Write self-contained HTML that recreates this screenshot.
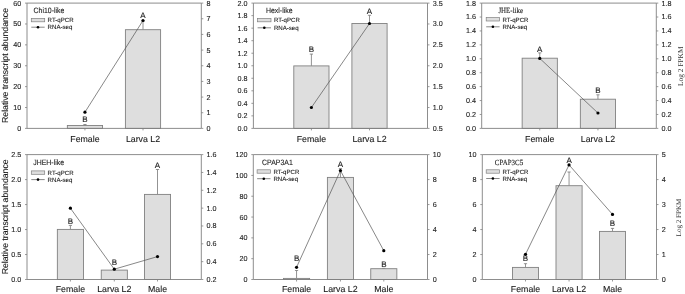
<!DOCTYPE html>
<html><head><meta charset="utf-8"><title>RT-qPCR vs RNA-seq</title><style>
html,body{margin:0;padding:0;background:#fff;}
body{width:685px;height:294px;overflow:hidden;font-family:"Liberation Sans", sans-serif;}
svg{display:block;filter:grayscale(1);text-rendering:geometricPrecision;}
text{stroke:#1a1a1a;stroke-width:0.1px;}
</style></head><body>
<svg width="685" height="294" viewBox="0 0 685 294">
<rect width="685" height="294" fill="#fff"/>
<line x1="84.95" y1="125.5" x2="84.95" y2="124.5" stroke="#777" stroke-width="0.8"/>
<line x1="83.35" y1="124.5" x2="86.55" y2="124.5" stroke="#777" stroke-width="0.8"/>
<rect x="67.35" y="125.5" width="35.2" height="2.9" fill="#dedede" stroke="#808080" stroke-width="0.9"/>
<text x="84.95" y="122.4" font-size="8" text-anchor="middle" font-family='"Liberation Sans", sans-serif' fill="#1a1a1a">B</text>
<text x="84.95" y="141.8" font-size="8.8" text-anchor="middle" font-family='"Liberation Sans", sans-serif' fill="#1a1a1a">Female</text>
<line x1="84.95" y1="128.4" x2="84.95" y2="130.4" stroke="#808080" stroke-width="0.8"/>
<line x1="143" y1="29.7" x2="143" y2="21" stroke="#777" stroke-width="0.8"/>
<line x1="141.4" y1="21" x2="144.6" y2="21" stroke="#777" stroke-width="0.8"/>
<rect x="125.4" y="29.7" width="35.2" height="98.7" fill="#dedede" stroke="#808080" stroke-width="0.9"/>
<text x="143" y="18" font-size="8" text-anchor="middle" font-family='"Liberation Sans", sans-serif' fill="#1a1a1a">A</text>
<text x="143" y="141.8" font-size="8.8" text-anchor="middle" font-family='"Liberation Sans", sans-serif' fill="#1a1a1a">Larva L2</text>
<line x1="143" y1="128.4" x2="143" y2="130.4" stroke="#808080" stroke-width="0.8"/>
<polyline points="84.95,112.2 143,20.5" fill="none" stroke="#555" stroke-width="0.7"/>
<circle cx="84.95" cy="112.2" r="1.6" fill="#000"/>
<circle cx="143" cy="20.5" r="1.6" fill="#000"/>
<path d="M27 3.1H201.3V128.4H27Z" fill="none" stroke="#808080" stroke-width="0.9"/>
<line x1="25" y1="128.4" x2="27" y2="128.4" stroke="#808080" stroke-width="0.8"/>
<text x="21.2" y="130.85" font-size="7.2" text-anchor="end" font-family='"Liberation Sans", sans-serif' fill="#1a1a1a">0</text>
<line x1="25" y1="107.52" x2="27" y2="107.52" stroke="#808080" stroke-width="0.8"/>
<text x="21.2" y="109.96" font-size="7.2" text-anchor="end" font-family='"Liberation Sans", sans-serif' fill="#1a1a1a">10</text>
<line x1="25" y1="86.63" x2="27" y2="86.63" stroke="#808080" stroke-width="0.8"/>
<text x="21.2" y="89.08" font-size="7.2" text-anchor="end" font-family='"Liberation Sans", sans-serif' fill="#1a1a1a">20</text>
<line x1="25" y1="65.75" x2="27" y2="65.75" stroke="#808080" stroke-width="0.8"/>
<text x="21.2" y="68.2" font-size="7.2" text-anchor="end" font-family='"Liberation Sans", sans-serif' fill="#1a1a1a">30</text>
<line x1="25" y1="44.87" x2="27" y2="44.87" stroke="#808080" stroke-width="0.8"/>
<text x="21.2" y="47.31" font-size="7.2" text-anchor="end" font-family='"Liberation Sans", sans-serif' fill="#1a1a1a">40</text>
<line x1="25" y1="23.98" x2="27" y2="23.98" stroke="#808080" stroke-width="0.8"/>
<text x="21.2" y="26.43" font-size="7.2" text-anchor="end" font-family='"Liberation Sans", sans-serif' fill="#1a1a1a">50</text>
<line x1="25" y1="3.1" x2="27" y2="3.1" stroke="#808080" stroke-width="0.8"/>
<text x="21.2" y="5.55" font-size="7.2" text-anchor="end" font-family='"Liberation Sans", sans-serif' fill="#1a1a1a">60</text>
<line x1="201.3" y1="128.4" x2="203.3" y2="128.4" stroke="#808080" stroke-width="0.8"/>
<text x="206.6" y="130.85" font-size="7.2" text-anchor="start" font-family='"Liberation Sans", sans-serif' fill="#1a1a1a">0</text>
<line x1="201.3" y1="112.74" x2="203.3" y2="112.74" stroke="#808080" stroke-width="0.8"/>
<text x="206.6" y="115.19" font-size="7.2" text-anchor="start" font-family='"Liberation Sans", sans-serif' fill="#1a1a1a">1</text>
<line x1="201.3" y1="97.08" x2="203.3" y2="97.08" stroke="#808080" stroke-width="0.8"/>
<text x="206.6" y="99.52" font-size="7.2" text-anchor="start" font-family='"Liberation Sans", sans-serif' fill="#1a1a1a">2</text>
<line x1="201.3" y1="81.41" x2="203.3" y2="81.41" stroke="#808080" stroke-width="0.8"/>
<text x="206.6" y="83.86" font-size="7.2" text-anchor="start" font-family='"Liberation Sans", sans-serif' fill="#1a1a1a">3</text>
<line x1="201.3" y1="65.75" x2="203.3" y2="65.75" stroke="#808080" stroke-width="0.8"/>
<text x="206.6" y="68.2" font-size="7.2" text-anchor="start" font-family='"Liberation Sans", sans-serif' fill="#1a1a1a">4</text>
<line x1="201.3" y1="50.09" x2="203.3" y2="50.09" stroke="#808080" stroke-width="0.8"/>
<text x="206.6" y="52.54" font-size="7.2" text-anchor="start" font-family='"Liberation Sans", sans-serif' fill="#1a1a1a">5</text>
<line x1="201.3" y1="34.42" x2="203.3" y2="34.42" stroke="#808080" stroke-width="0.8"/>
<text x="206.6" y="36.87" font-size="7.2" text-anchor="start" font-family='"Liberation Sans", sans-serif' fill="#1a1a1a">6</text>
<line x1="201.3" y1="18.76" x2="203.3" y2="18.76" stroke="#808080" stroke-width="0.8"/>
<text x="206.6" y="21.21" font-size="7.2" text-anchor="start" font-family='"Liberation Sans", sans-serif' fill="#1a1a1a">7</text>
<line x1="201.3" y1="3.1" x2="203.3" y2="3.1" stroke="#808080" stroke-width="0.8"/>
<text x="206.6" y="5.55" font-size="7.2" text-anchor="start" font-family='"Liberation Sans", sans-serif' fill="#1a1a1a">8</text>
<text x="0" y="0" font-size="7.7" font-family='"Liberation Sans", sans-serif' fill="#1a1a1a" transform="translate(33.6 12.7) scale(0.9 1)">Chi10-like</text>
<rect x="31.3" y="18.4" width="13.4" height="3.4" fill="#dedede" stroke="#808080" stroke-width="0.7"/>
<text x="47.6" y="22.3" font-size="6.1" text-anchor="start" font-family='"Liberation Sans", sans-serif' fill="#1a1a1a">RT-qPCR</text>
<line x1="31.3" y1="27.2" x2="44.7" y2="27.2" stroke="#555" stroke-width="0.7"/>
<circle cx="38" cy="27.2" r="1.3" fill="#000"/>
<text x="47.6" y="29.3" font-size="6.1" text-anchor="start" font-family='"Liberation Sans", sans-serif' fill="#1a1a1a">RNA-seq</text>
<line x1="311.4" y1="65.9" x2="311.4" y2="54.1" stroke="#777" stroke-width="0.8"/>
<line x1="309.8" y1="54.1" x2="313" y2="54.1" stroke="#777" stroke-width="0.8"/>
<rect x="293.8" y="65.9" width="35.2" height="62.5" fill="#dedede" stroke="#808080" stroke-width="0.9"/>
<text x="311.4" y="52" font-size="8" text-anchor="middle" font-family='"Liberation Sans", sans-serif' fill="#1a1a1a">B</text>
<text x="311.4" y="141.8" font-size="8.8" text-anchor="middle" font-family='"Liberation Sans", sans-serif' fill="#1a1a1a">Female</text>
<line x1="311.4" y1="128.4" x2="311.4" y2="130.4" stroke="#808080" stroke-width="0.8"/>
<line x1="369.5" y1="23.5" x2="369.5" y2="15.3" stroke="#777" stroke-width="0.8"/>
<line x1="367.9" y1="15.3" x2="371.1" y2="15.3" stroke="#777" stroke-width="0.8"/>
<rect x="351.9" y="23.5" width="35.2" height="104.9" fill="#dedede" stroke="#808080" stroke-width="0.9"/>
<text x="369.5" y="14.3" font-size="8" text-anchor="middle" font-family='"Liberation Sans", sans-serif' fill="#1a1a1a">A</text>
<text x="369.5" y="141.8" font-size="8.8" text-anchor="middle" font-family='"Liberation Sans", sans-serif' fill="#1a1a1a">Larva L2</text>
<line x1="369.5" y1="128.4" x2="369.5" y2="130.4" stroke="#808080" stroke-width="0.8"/>
<polyline points="311.4,107.5 369.5,23.5" fill="none" stroke="#555" stroke-width="0.7"/>
<circle cx="311.4" cy="107.5" r="1.6" fill="#000"/>
<circle cx="369.5" cy="23.5" r="1.6" fill="#000"/>
<path d="M253.4 3.1H427.5V128.4H253.4Z" fill="none" stroke="#808080" stroke-width="0.9"/>
<line x1="251.4" y1="128.4" x2="253.4" y2="128.4" stroke="#808080" stroke-width="0.8"/>
<text x="247.6" y="130.85" font-size="7.2" text-anchor="end" font-family='"Liberation Sans", sans-serif' fill="#1a1a1a">0.0</text>
<line x1="251.4" y1="115.87" x2="253.4" y2="115.87" stroke="#808080" stroke-width="0.8"/>
<text x="247.6" y="118.32" font-size="7.2" text-anchor="end" font-family='"Liberation Sans", sans-serif' fill="#1a1a1a">0.2</text>
<line x1="251.4" y1="103.34" x2="253.4" y2="103.34" stroke="#808080" stroke-width="0.8"/>
<text x="247.6" y="105.79" font-size="7.2" text-anchor="end" font-family='"Liberation Sans", sans-serif' fill="#1a1a1a">0.4</text>
<line x1="251.4" y1="90.81" x2="253.4" y2="90.81" stroke="#808080" stroke-width="0.8"/>
<text x="247.6" y="93.26" font-size="7.2" text-anchor="end" font-family='"Liberation Sans", sans-serif' fill="#1a1a1a">0.6</text>
<line x1="251.4" y1="78.28" x2="253.4" y2="78.28" stroke="#808080" stroke-width="0.8"/>
<text x="247.6" y="80.73" font-size="7.2" text-anchor="end" font-family='"Liberation Sans", sans-serif' fill="#1a1a1a">0.8</text>
<line x1="251.4" y1="65.75" x2="253.4" y2="65.75" stroke="#808080" stroke-width="0.8"/>
<text x="247.6" y="68.2" font-size="7.2" text-anchor="end" font-family='"Liberation Sans", sans-serif' fill="#1a1a1a">1.0</text>
<line x1="251.4" y1="53.22" x2="253.4" y2="53.22" stroke="#808080" stroke-width="0.8"/>
<text x="247.6" y="55.67" font-size="7.2" text-anchor="end" font-family='"Liberation Sans", sans-serif' fill="#1a1a1a">1.2</text>
<line x1="251.4" y1="40.69" x2="253.4" y2="40.69" stroke="#808080" stroke-width="0.8"/>
<text x="247.6" y="43.14" font-size="7.2" text-anchor="end" font-family='"Liberation Sans", sans-serif' fill="#1a1a1a">1.4</text>
<line x1="251.4" y1="28.16" x2="253.4" y2="28.16" stroke="#808080" stroke-width="0.8"/>
<text x="247.6" y="30.61" font-size="7.2" text-anchor="end" font-family='"Liberation Sans", sans-serif' fill="#1a1a1a">1.6</text>
<line x1="251.4" y1="15.63" x2="253.4" y2="15.63" stroke="#808080" stroke-width="0.8"/>
<text x="247.6" y="18.08" font-size="7.2" text-anchor="end" font-family='"Liberation Sans", sans-serif' fill="#1a1a1a">1.8</text>
<line x1="251.4" y1="3.1" x2="253.4" y2="3.1" stroke="#808080" stroke-width="0.8"/>
<text x="247.6" y="5.55" font-size="7.2" text-anchor="end" font-family='"Liberation Sans", sans-serif' fill="#1a1a1a">2.0</text>
<line x1="427.5" y1="128.4" x2="429.5" y2="128.4" stroke="#808080" stroke-width="0.8"/>
<text x="432.8" y="130.85" font-size="7.2" text-anchor="start" font-family='"Liberation Sans", sans-serif' fill="#1a1a1a">0.5</text>
<line x1="427.5" y1="107.52" x2="429.5" y2="107.52" stroke="#808080" stroke-width="0.8"/>
<text x="432.8" y="109.96" font-size="7.2" text-anchor="start" font-family='"Liberation Sans", sans-serif' fill="#1a1a1a">1.0</text>
<line x1="427.5" y1="86.63" x2="429.5" y2="86.63" stroke="#808080" stroke-width="0.8"/>
<text x="432.8" y="89.08" font-size="7.2" text-anchor="start" font-family='"Liberation Sans", sans-serif' fill="#1a1a1a">1.5</text>
<line x1="427.5" y1="65.75" x2="429.5" y2="65.75" stroke="#808080" stroke-width="0.8"/>
<text x="432.8" y="68.2" font-size="7.2" text-anchor="start" font-family='"Liberation Sans", sans-serif' fill="#1a1a1a">2.0</text>
<line x1="427.5" y1="44.87" x2="429.5" y2="44.87" stroke="#808080" stroke-width="0.8"/>
<text x="432.8" y="47.31" font-size="7.2" text-anchor="start" font-family='"Liberation Sans", sans-serif' fill="#1a1a1a">2.5</text>
<line x1="427.5" y1="23.98" x2="429.5" y2="23.98" stroke="#808080" stroke-width="0.8"/>
<text x="432.8" y="26.43" font-size="7.2" text-anchor="start" font-family='"Liberation Sans", sans-serif' fill="#1a1a1a">3.0</text>
<line x1="427.5" y1="3.1" x2="429.5" y2="3.1" stroke="#808080" stroke-width="0.8"/>
<text x="432.8" y="5.55" font-size="7.2" text-anchor="start" font-family='"Liberation Sans", sans-serif' fill="#1a1a1a">3.5</text>
<text x="0" y="0" font-size="7.7" font-family='"Liberation Sans", sans-serif' fill="#1a1a1a" transform="translate(266 12.7) scale(0.9 1)">Hexl-like</text>
<rect x="257.6" y="18.4" width="13.4" height="3.4" fill="#dedede" stroke="#808080" stroke-width="0.7"/>
<text x="273.9" y="22.3" font-size="6.1" text-anchor="start" font-family='"Liberation Sans", sans-serif' fill="#1a1a1a">RT-qPCR</text>
<line x1="257.6" y1="27.8" x2="271" y2="27.8" stroke="#555" stroke-width="0.7"/>
<circle cx="264.3" cy="27.8" r="1.3" fill="#000"/>
<text x="273.9" y="29.9" font-size="6.1" text-anchor="start" font-family='"Liberation Sans", sans-serif' fill="#1a1a1a">RNA-seq</text>
<line x1="539.75" y1="58.2" x2="539.75" y2="52.9" stroke="#777" stroke-width="0.8"/>
<line x1="538.15" y1="52.9" x2="541.35" y2="52.9" stroke="#777" stroke-width="0.8"/>
<rect x="522.15" y="58.2" width="35.2" height="70.2" fill="#dedede" stroke="#808080" stroke-width="0.9"/>
<text x="539.75" y="52" font-size="8" text-anchor="middle" font-family='"Liberation Sans", sans-serif' fill="#1a1a1a">A</text>
<text x="539.75" y="141.8" font-size="8.8" text-anchor="middle" font-family='"Liberation Sans", sans-serif' fill="#1a1a1a">Female</text>
<line x1="539.75" y1="128.4" x2="539.75" y2="130.4" stroke="#808080" stroke-width="0.8"/>
<line x1="597.95" y1="99.2" x2="597.95" y2="94.8" stroke="#777" stroke-width="0.8"/>
<line x1="596.35" y1="94.8" x2="599.55" y2="94.8" stroke="#777" stroke-width="0.8"/>
<rect x="580.35" y="99.2" width="35.2" height="29.2" fill="#dedede" stroke="#808080" stroke-width="0.9"/>
<text x="597.95" y="92.8" font-size="8" text-anchor="middle" font-family='"Liberation Sans", sans-serif' fill="#1a1a1a">B</text>
<text x="597.95" y="141.8" font-size="8.8" text-anchor="middle" font-family='"Liberation Sans", sans-serif' fill="#1a1a1a">Larva L2</text>
<line x1="597.95" y1="128.4" x2="597.95" y2="130.4" stroke="#808080" stroke-width="0.8"/>
<polyline points="539.75,58.4 597.95,113" fill="none" stroke="#555" stroke-width="0.7"/>
<circle cx="539.75" cy="58.4" r="1.6" fill="#000"/>
<circle cx="597.95" cy="113" r="1.6" fill="#000"/>
<path d="M481.7 3.1H656.3V128.4H481.7Z" fill="none" stroke="#808080" stroke-width="0.9"/>
<line x1="479.7" y1="128.4" x2="481.7" y2="128.4" stroke="#808080" stroke-width="0.8"/>
<text x="475.9" y="130.85" font-size="7.2" text-anchor="end" font-family='"Liberation Sans", sans-serif' fill="#1a1a1a">0.0</text>
<line x1="479.7" y1="114.48" x2="481.7" y2="114.48" stroke="#808080" stroke-width="0.8"/>
<text x="475.9" y="116.93" font-size="7.2" text-anchor="end" font-family='"Liberation Sans", sans-serif' fill="#1a1a1a">0.2</text>
<line x1="479.7" y1="100.56" x2="481.7" y2="100.56" stroke="#808080" stroke-width="0.8"/>
<text x="475.9" y="103" font-size="7.2" text-anchor="end" font-family='"Liberation Sans", sans-serif' fill="#1a1a1a">0.4</text>
<line x1="479.7" y1="86.63" x2="481.7" y2="86.63" stroke="#808080" stroke-width="0.8"/>
<text x="475.9" y="89.08" font-size="7.2" text-anchor="end" font-family='"Liberation Sans", sans-serif' fill="#1a1a1a">0.6</text>
<line x1="479.7" y1="72.71" x2="481.7" y2="72.71" stroke="#808080" stroke-width="0.8"/>
<text x="475.9" y="75.16" font-size="7.2" text-anchor="end" font-family='"Liberation Sans", sans-serif' fill="#1a1a1a">0.8</text>
<line x1="479.7" y1="58.79" x2="481.7" y2="58.79" stroke="#808080" stroke-width="0.8"/>
<text x="475.9" y="61.24" font-size="7.2" text-anchor="end" font-family='"Liberation Sans", sans-serif' fill="#1a1a1a">1.0</text>
<line x1="479.7" y1="44.87" x2="481.7" y2="44.87" stroke="#808080" stroke-width="0.8"/>
<text x="475.9" y="47.31" font-size="7.2" text-anchor="end" font-family='"Liberation Sans", sans-serif' fill="#1a1a1a">1.2</text>
<line x1="479.7" y1="30.94" x2="481.7" y2="30.94" stroke="#808080" stroke-width="0.8"/>
<text x="475.9" y="33.39" font-size="7.2" text-anchor="end" font-family='"Liberation Sans", sans-serif' fill="#1a1a1a">1.4</text>
<line x1="479.7" y1="17.02" x2="481.7" y2="17.02" stroke="#808080" stroke-width="0.8"/>
<text x="475.9" y="19.47" font-size="7.2" text-anchor="end" font-family='"Liberation Sans", sans-serif' fill="#1a1a1a">1.6</text>
<line x1="479.7" y1="3.1" x2="481.7" y2="3.1" stroke="#808080" stroke-width="0.8"/>
<text x="475.9" y="5.55" font-size="7.2" text-anchor="end" font-family='"Liberation Sans", sans-serif' fill="#1a1a1a">1.8</text>
<line x1="656.3" y1="128.4" x2="658.3" y2="128.4" stroke="#808080" stroke-width="0.8"/>
<text x="661.6" y="130.85" font-size="7.2" text-anchor="start" font-family='"Liberation Sans", sans-serif' fill="#1a1a1a">0.0</text>
<line x1="656.3" y1="114.48" x2="658.3" y2="114.48" stroke="#808080" stroke-width="0.8"/>
<text x="661.6" y="116.93" font-size="7.2" text-anchor="start" font-family='"Liberation Sans", sans-serif' fill="#1a1a1a">0.2</text>
<line x1="656.3" y1="100.56" x2="658.3" y2="100.56" stroke="#808080" stroke-width="0.8"/>
<text x="661.6" y="103" font-size="7.2" text-anchor="start" font-family='"Liberation Sans", sans-serif' fill="#1a1a1a">0.4</text>
<line x1="656.3" y1="86.63" x2="658.3" y2="86.63" stroke="#808080" stroke-width="0.8"/>
<text x="661.6" y="89.08" font-size="7.2" text-anchor="start" font-family='"Liberation Sans", sans-serif' fill="#1a1a1a">0.6</text>
<line x1="656.3" y1="72.71" x2="658.3" y2="72.71" stroke="#808080" stroke-width="0.8"/>
<text x="661.6" y="75.16" font-size="7.2" text-anchor="start" font-family='"Liberation Sans", sans-serif' fill="#1a1a1a">0.8</text>
<line x1="656.3" y1="58.79" x2="658.3" y2="58.79" stroke="#808080" stroke-width="0.8"/>
<text x="661.6" y="61.24" font-size="7.2" text-anchor="start" font-family='"Liberation Sans", sans-serif' fill="#1a1a1a">1.0</text>
<line x1="656.3" y1="44.87" x2="658.3" y2="44.87" stroke="#808080" stroke-width="0.8"/>
<text x="661.6" y="47.31" font-size="7.2" text-anchor="start" font-family='"Liberation Sans", sans-serif' fill="#1a1a1a">1.2</text>
<line x1="656.3" y1="30.94" x2="658.3" y2="30.94" stroke="#808080" stroke-width="0.8"/>
<text x="661.6" y="33.39" font-size="7.2" text-anchor="start" font-family='"Liberation Sans", sans-serif' fill="#1a1a1a">1.4</text>
<line x1="656.3" y1="17.02" x2="658.3" y2="17.02" stroke="#808080" stroke-width="0.8"/>
<text x="661.6" y="19.47" font-size="7.2" text-anchor="start" font-family='"Liberation Sans", sans-serif' fill="#1a1a1a">1.6</text>
<line x1="656.3" y1="3.1" x2="658.3" y2="3.1" stroke="#808080" stroke-width="0.8"/>
<text x="661.6" y="5.55" font-size="7.2" text-anchor="start" font-family='"Liberation Sans", sans-serif' fill="#1a1a1a">1.8</text>
<text x="0" y="0" font-size="7.9" font-family='"Liberation Serif", serif' fill="#1a1a1a" transform="translate(498.4 12.8) scale(0.88 1)">JHE-like</text>
<rect x="486.2" y="17.6" width="13.4" height="3.4" fill="#dedede" stroke="#808080" stroke-width="0.7"/>
<text x="502.5" y="21.5" font-size="6.1" text-anchor="start" font-family='"Liberation Sans", sans-serif' fill="#1a1a1a">RT-qPCR</text>
<line x1="486.2" y1="26.8" x2="499.6" y2="26.8" stroke="#555" stroke-width="0.7"/>
<circle cx="492.9" cy="26.8" r="1.3" fill="#000"/>
<text x="502.5" y="28.9" font-size="6.1" text-anchor="start" font-family='"Liberation Sans", sans-serif' fill="#1a1a1a">RNA-seq</text>
<line x1="70.4" y1="229.4" x2="70.4" y2="225.4" stroke="#777" stroke-width="0.8"/>
<line x1="68.8" y1="225.4" x2="72" y2="225.4" stroke="#777" stroke-width="0.8"/>
<rect x="57.35" y="229.4" width="26.1" height="50.1" fill="#dedede" stroke="#808080" stroke-width="0.9"/>
<text x="70.4" y="224.1" font-size="8" text-anchor="middle" font-family='"Liberation Sans", sans-serif' fill="#1a1a1a">B</text>
<text x="70.4" y="292.4" font-size="8.8" text-anchor="middle" font-family='"Liberation Sans", sans-serif' fill="#1a1a1a">Female</text>
<line x1="70.4" y1="279.5" x2="70.4" y2="281.5" stroke="#808080" stroke-width="0.8"/>
<rect x="101.25" y="270.1" width="26.1" height="9.4" fill="#dedede" stroke="#808080" stroke-width="0.9"/>
<text x="114.3" y="264.7" font-size="8" text-anchor="middle" font-family='"Liberation Sans", sans-serif' fill="#1a1a1a">B</text>
<text x="114.3" y="292.4" font-size="8.8" text-anchor="middle" font-family='"Liberation Sans", sans-serif' fill="#1a1a1a">Larva L2</text>
<line x1="114.3" y1="279.5" x2="114.3" y2="281.5" stroke="#808080" stroke-width="0.8"/>
<line x1="157.5" y1="194.4" x2="157.5" y2="169.5" stroke="#777" stroke-width="0.8"/>
<line x1="155.9" y1="169.5" x2="159.1" y2="169.5" stroke="#777" stroke-width="0.8"/>
<rect x="144.45" y="194.4" width="26.1" height="85.1" fill="#dedede" stroke="#808080" stroke-width="0.9"/>
<text x="157.5" y="168.3" font-size="8" text-anchor="middle" font-family='"Liberation Sans", sans-serif' fill="#1a1a1a">A</text>
<text x="157.5" y="292.4" font-size="8.8" text-anchor="middle" font-family='"Liberation Sans", sans-serif' fill="#1a1a1a">Male</text>
<line x1="157.5" y1="279.5" x2="157.5" y2="281.5" stroke="#808080" stroke-width="0.8"/>
<polyline points="70.4,208.2 114.3,269.2 157.5,256.6" fill="none" stroke="#555" stroke-width="0.7"/>
<circle cx="70.4" cy="208.2" r="1.6" fill="#000"/>
<circle cx="114.3" cy="269.2" r="1.6" fill="#000"/>
<circle cx="157.5" cy="256.6" r="1.6" fill="#000"/>
<path d="M27 154.6H201.3V279.5H27Z" fill="none" stroke="#808080" stroke-width="0.9"/>
<line x1="25" y1="279.5" x2="27" y2="279.5" stroke="#808080" stroke-width="0.8"/>
<text x="21.2" y="281.95" font-size="7.2" text-anchor="end" font-family='"Liberation Sans", sans-serif' fill="#1a1a1a">0.0</text>
<line x1="25" y1="254.52" x2="27" y2="254.52" stroke="#808080" stroke-width="0.8"/>
<text x="21.2" y="256.97" font-size="7.2" text-anchor="end" font-family='"Liberation Sans", sans-serif' fill="#1a1a1a">0.5</text>
<line x1="25" y1="229.54" x2="27" y2="229.54" stroke="#808080" stroke-width="0.8"/>
<text x="21.2" y="231.99" font-size="7.2" text-anchor="end" font-family='"Liberation Sans", sans-serif' fill="#1a1a1a">1.0</text>
<line x1="25" y1="204.56" x2="27" y2="204.56" stroke="#808080" stroke-width="0.8"/>
<text x="21.2" y="207.01" font-size="7.2" text-anchor="end" font-family='"Liberation Sans", sans-serif' fill="#1a1a1a">1.5</text>
<line x1="25" y1="179.58" x2="27" y2="179.58" stroke="#808080" stroke-width="0.8"/>
<text x="21.2" y="182.03" font-size="7.2" text-anchor="end" font-family='"Liberation Sans", sans-serif' fill="#1a1a1a">2.0</text>
<line x1="25" y1="154.6" x2="27" y2="154.6" stroke="#808080" stroke-width="0.8"/>
<text x="21.2" y="157.05" font-size="7.2" text-anchor="end" font-family='"Liberation Sans", sans-serif' fill="#1a1a1a">2.5</text>
<line x1="201.3" y1="279.5" x2="203.3" y2="279.5" stroke="#808080" stroke-width="0.8"/>
<text x="206.6" y="281.95" font-size="7.2" text-anchor="start" font-family='"Liberation Sans", sans-serif' fill="#1a1a1a">0.2</text>
<line x1="201.3" y1="261.66" x2="203.3" y2="261.66" stroke="#808080" stroke-width="0.8"/>
<text x="206.6" y="264.11" font-size="7.2" text-anchor="start" font-family='"Liberation Sans", sans-serif' fill="#1a1a1a">0.4</text>
<line x1="201.3" y1="243.81" x2="203.3" y2="243.81" stroke="#808080" stroke-width="0.8"/>
<text x="206.6" y="246.26" font-size="7.2" text-anchor="start" font-family='"Liberation Sans", sans-serif' fill="#1a1a1a">0.6</text>
<line x1="201.3" y1="225.97" x2="203.3" y2="225.97" stroke="#808080" stroke-width="0.8"/>
<text x="206.6" y="228.42" font-size="7.2" text-anchor="start" font-family='"Liberation Sans", sans-serif' fill="#1a1a1a">0.8</text>
<line x1="201.3" y1="208.13" x2="203.3" y2="208.13" stroke="#808080" stroke-width="0.8"/>
<text x="206.6" y="210.58" font-size="7.2" text-anchor="start" font-family='"Liberation Sans", sans-serif' fill="#1a1a1a">1.0</text>
<line x1="201.3" y1="190.29" x2="203.3" y2="190.29" stroke="#808080" stroke-width="0.8"/>
<text x="206.6" y="192.73" font-size="7.2" text-anchor="start" font-family='"Liberation Sans", sans-serif' fill="#1a1a1a">1.2</text>
<line x1="201.3" y1="172.44" x2="203.3" y2="172.44" stroke="#808080" stroke-width="0.8"/>
<text x="206.6" y="174.89" font-size="7.2" text-anchor="start" font-family='"Liberation Sans", sans-serif' fill="#1a1a1a">1.4</text>
<line x1="201.3" y1="154.6" x2="203.3" y2="154.6" stroke="#808080" stroke-width="0.8"/>
<text x="206.6" y="157.05" font-size="7.2" text-anchor="start" font-family='"Liberation Sans", sans-serif' fill="#1a1a1a">1.6</text>
<text x="0" y="0" font-size="7.7" font-family='"Liberation Sans", sans-serif' fill="#1a1a1a" transform="translate(33.3 165) scale(0.9 1)">JHEH-like</text>
<rect x="31.3" y="170.9" width="13.4" height="3.4" fill="#dedede" stroke="#808080" stroke-width="0.7"/>
<text x="47.6" y="174.8" font-size="6.1" text-anchor="start" font-family='"Liberation Sans", sans-serif' fill="#1a1a1a">RT-qPCR</text>
<line x1="31.3" y1="179.6" x2="44.7" y2="179.6" stroke="#555" stroke-width="0.7"/>
<circle cx="38" cy="179.6" r="1.3" fill="#000"/>
<text x="47.6" y="181.7" font-size="6.1" text-anchor="start" font-family='"Liberation Sans", sans-serif' fill="#1a1a1a">RNA-seq</text>
<line x1="296.55" y1="278.4" x2="296.55" y2="270.5" stroke="#777" stroke-width="0.8"/>
<line x1="294.95" y1="270.5" x2="298.15" y2="270.5" stroke="#777" stroke-width="0.8"/>
<rect x="283.5" y="278.4" width="26.1" height="1.1" fill="#dedede" stroke="#808080" stroke-width="0.9"/>
<text x="296.55" y="261.3" font-size="8" text-anchor="middle" font-family='"Liberation Sans", sans-serif' fill="#1a1a1a">B</text>
<text x="296.55" y="292.4" font-size="8.8" text-anchor="middle" font-family='"Liberation Sans", sans-serif' fill="#1a1a1a">Female</text>
<line x1="296.55" y1="279.5" x2="296.55" y2="281.5" stroke="#808080" stroke-width="0.8"/>
<line x1="340.45" y1="177.4" x2="340.45" y2="168.6" stroke="#777" stroke-width="0.8"/>
<line x1="338.85" y1="168.6" x2="342.05" y2="168.6" stroke="#777" stroke-width="0.8"/>
<rect x="327.4" y="177.4" width="26.1" height="102.1" fill="#dedede" stroke="#808080" stroke-width="0.9"/>
<text x="340.45" y="166.7" font-size="8" text-anchor="middle" font-family='"Liberation Sans", sans-serif' fill="#1a1a1a">A</text>
<text x="340.45" y="292.4" font-size="8.8" text-anchor="middle" font-family='"Liberation Sans", sans-serif' fill="#1a1a1a">Larva L2</text>
<line x1="340.45" y1="279.5" x2="340.45" y2="281.5" stroke="#808080" stroke-width="0.8"/>
<line x1="383.8" y1="268.7" x2="383.8" y2="268.3" stroke="#777" stroke-width="0.8"/>
<line x1="382.2" y1="268.3" x2="385.4" y2="268.3" stroke="#777" stroke-width="0.8"/>
<rect x="370.75" y="268.7" width="26.1" height="10.8" fill="#dedede" stroke="#808080" stroke-width="0.9"/>
<text x="383.8" y="266.7" font-size="8" text-anchor="middle" font-family='"Liberation Sans", sans-serif' fill="#1a1a1a">B</text>
<text x="383.8" y="292.4" font-size="8.8" text-anchor="middle" font-family='"Liberation Sans", sans-serif' fill="#1a1a1a">Male</text>
<line x1="383.8" y1="279.5" x2="383.8" y2="281.5" stroke="#808080" stroke-width="0.8"/>
<polyline points="296.55,267.3 340.45,170.6 383.8,250.7" fill="none" stroke="#555" stroke-width="0.7"/>
<circle cx="296.55" cy="267.3" r="1.6" fill="#000"/>
<circle cx="340.45" cy="170.6" r="1.6" fill="#000"/>
<circle cx="383.8" cy="250.7" r="1.6" fill="#000"/>
<path d="M253.3 154.6H427.5V279.5H253.3Z" fill="none" stroke="#808080" stroke-width="0.9"/>
<line x1="251.3" y1="279.5" x2="253.3" y2="279.5" stroke="#808080" stroke-width="0.8"/>
<text x="247.5" y="281.95" font-size="7.2" text-anchor="end" font-family='"Liberation Sans", sans-serif' fill="#1a1a1a">0</text>
<line x1="251.3" y1="258.68" x2="253.3" y2="258.68" stroke="#808080" stroke-width="0.8"/>
<text x="247.5" y="261.13" font-size="7.2" text-anchor="end" font-family='"Liberation Sans", sans-serif' fill="#1a1a1a">20</text>
<line x1="251.3" y1="237.87" x2="253.3" y2="237.87" stroke="#808080" stroke-width="0.8"/>
<text x="247.5" y="240.31" font-size="7.2" text-anchor="end" font-family='"Liberation Sans", sans-serif' fill="#1a1a1a">40</text>
<line x1="251.3" y1="217.05" x2="253.3" y2="217.05" stroke="#808080" stroke-width="0.8"/>
<text x="247.5" y="219.5" font-size="7.2" text-anchor="end" font-family='"Liberation Sans", sans-serif' fill="#1a1a1a">60</text>
<line x1="251.3" y1="196.23" x2="253.3" y2="196.23" stroke="#808080" stroke-width="0.8"/>
<text x="247.5" y="198.68" font-size="7.2" text-anchor="end" font-family='"Liberation Sans", sans-serif' fill="#1a1a1a">80</text>
<line x1="251.3" y1="175.42" x2="253.3" y2="175.42" stroke="#808080" stroke-width="0.8"/>
<text x="247.5" y="177.86" font-size="7.2" text-anchor="end" font-family='"Liberation Sans", sans-serif' fill="#1a1a1a">100</text>
<line x1="251.3" y1="154.6" x2="253.3" y2="154.6" stroke="#808080" stroke-width="0.8"/>
<text x="247.5" y="157.05" font-size="7.2" text-anchor="end" font-family='"Liberation Sans", sans-serif' fill="#1a1a1a">120</text>
<line x1="427.5" y1="279.5" x2="429.5" y2="279.5" stroke="#808080" stroke-width="0.8"/>
<text x="432.8" y="281.95" font-size="7.2" text-anchor="start" font-family='"Liberation Sans", sans-serif' fill="#1a1a1a">0</text>
<line x1="427.5" y1="254.52" x2="429.5" y2="254.52" stroke="#808080" stroke-width="0.8"/>
<text x="432.8" y="256.97" font-size="7.2" text-anchor="start" font-family='"Liberation Sans", sans-serif' fill="#1a1a1a">2</text>
<line x1="427.5" y1="229.54" x2="429.5" y2="229.54" stroke="#808080" stroke-width="0.8"/>
<text x="432.8" y="231.99" font-size="7.2" text-anchor="start" font-family='"Liberation Sans", sans-serif' fill="#1a1a1a">4</text>
<line x1="427.5" y1="204.56" x2="429.5" y2="204.56" stroke="#808080" stroke-width="0.8"/>
<text x="432.8" y="207.01" font-size="7.2" text-anchor="start" font-family='"Liberation Sans", sans-serif' fill="#1a1a1a">6</text>
<line x1="427.5" y1="179.58" x2="429.5" y2="179.58" stroke="#808080" stroke-width="0.8"/>
<text x="432.8" y="182.03" font-size="7.2" text-anchor="start" font-family='"Liberation Sans", sans-serif' fill="#1a1a1a">8</text>
<line x1="427.5" y1="154.6" x2="429.5" y2="154.6" stroke="#808080" stroke-width="0.8"/>
<text x="432.8" y="157.05" font-size="7.2" text-anchor="start" font-family='"Liberation Sans", sans-serif' fill="#1a1a1a">10</text>
<text x="0" y="0" font-size="7.7" font-family='"Liberation Sans", sans-serif' fill="#1a1a1a" transform="translate(262.1 164.6) scale(0.9 1)">CPAP3A1</text>
<rect x="257.1" y="169.8" width="13.4" height="3.4" fill="#dedede" stroke="#808080" stroke-width="0.7"/>
<text x="273.4" y="173.7" font-size="6.1" text-anchor="start" font-family='"Liberation Sans", sans-serif' fill="#1a1a1a">RT-qPCR</text>
<line x1="257.1" y1="178.7" x2="270.5" y2="178.7" stroke="#555" stroke-width="0.7"/>
<circle cx="263.8" cy="178.7" r="1.3" fill="#000"/>
<text x="273.4" y="180.8" font-size="6.1" text-anchor="start" font-family='"Liberation Sans", sans-serif' fill="#1a1a1a">RNA-seq</text>
<line x1="525.5" y1="267.4" x2="525.5" y2="263.7" stroke="#777" stroke-width="0.8"/>
<line x1="523.9" y1="263.7" x2="527.1" y2="263.7" stroke="#777" stroke-width="0.8"/>
<rect x="512.45" y="267.4" width="26.1" height="12.1" fill="#dedede" stroke="#808080" stroke-width="0.9"/>
<text x="525.5" y="261.3" font-size="8" text-anchor="middle" font-family='"Liberation Sans", sans-serif' fill="#1a1a1a">B</text>
<text x="525.5" y="292.4" font-size="8.8" text-anchor="middle" font-family='"Liberation Sans", sans-serif' fill="#1a1a1a">Female</text>
<line x1="525.5" y1="279.5" x2="525.5" y2="281.5" stroke="#808080" stroke-width="0.8"/>
<line x1="569.05" y1="185.7" x2="569.05" y2="172" stroke="#777" stroke-width="0.8"/>
<line x1="567.45" y1="172" x2="570.65" y2="172" stroke="#777" stroke-width="0.8"/>
<rect x="556" y="185.7" width="26.1" height="93.8" fill="#dedede" stroke="#808080" stroke-width="0.9"/>
<text x="569.05" y="162.7" font-size="8" text-anchor="middle" font-family='"Liberation Sans", sans-serif' fill="#1a1a1a">A</text>
<text x="569.05" y="292.4" font-size="8.8" text-anchor="middle" font-family='"Liberation Sans", sans-serif' fill="#1a1a1a">Larva L2</text>
<line x1="569.05" y1="279.5" x2="569.05" y2="281.5" stroke="#808080" stroke-width="0.8"/>
<line x1="612.5" y1="231.4" x2="612.5" y2="228.4" stroke="#777" stroke-width="0.8"/>
<line x1="610.9" y1="228.4" x2="614.1" y2="228.4" stroke="#777" stroke-width="0.8"/>
<rect x="599.45" y="231.4" width="26.1" height="48.1" fill="#dedede" stroke="#808080" stroke-width="0.9"/>
<text x="612.5" y="226.2" font-size="8" text-anchor="middle" font-family='"Liberation Sans", sans-serif' fill="#1a1a1a">B</text>
<text x="612.5" y="292.4" font-size="8.8" text-anchor="middle" font-family='"Liberation Sans", sans-serif' fill="#1a1a1a">Male</text>
<line x1="612.5" y1="279.5" x2="612.5" y2="281.5" stroke="#808080" stroke-width="0.8"/>
<polyline points="525.5,254.3 569.05,164.9 612.5,214.4" fill="none" stroke="#555" stroke-width="0.7"/>
<circle cx="525.5" cy="254.3" r="1.6" fill="#000"/>
<circle cx="569.05" cy="164.9" r="1.6" fill="#000"/>
<circle cx="612.5" cy="214.4" r="1.6" fill="#000"/>
<path d="M482.3 154.6H656.5V279.5H482.3Z" fill="none" stroke="#808080" stroke-width="0.9"/>
<line x1="480.3" y1="279.5" x2="482.3" y2="279.5" stroke="#808080" stroke-width="0.8"/>
<text x="476.5" y="281.95" font-size="7.2" text-anchor="end" font-family='"Liberation Sans", sans-serif' fill="#1a1a1a">0</text>
<line x1="480.3" y1="254.52" x2="482.3" y2="254.52" stroke="#808080" stroke-width="0.8"/>
<text x="476.5" y="256.97" font-size="7.2" text-anchor="end" font-family='"Liberation Sans", sans-serif' fill="#1a1a1a">2</text>
<line x1="480.3" y1="229.54" x2="482.3" y2="229.54" stroke="#808080" stroke-width="0.8"/>
<text x="476.5" y="231.99" font-size="7.2" text-anchor="end" font-family='"Liberation Sans", sans-serif' fill="#1a1a1a">4</text>
<line x1="480.3" y1="204.56" x2="482.3" y2="204.56" stroke="#808080" stroke-width="0.8"/>
<text x="476.5" y="207.01" font-size="7.2" text-anchor="end" font-family='"Liberation Sans", sans-serif' fill="#1a1a1a">6</text>
<line x1="480.3" y1="179.58" x2="482.3" y2="179.58" stroke="#808080" stroke-width="0.8"/>
<text x="476.5" y="182.03" font-size="7.2" text-anchor="end" font-family='"Liberation Sans", sans-serif' fill="#1a1a1a">8</text>
<line x1="480.3" y1="154.6" x2="482.3" y2="154.6" stroke="#808080" stroke-width="0.8"/>
<text x="476.5" y="157.05" font-size="7.2" text-anchor="end" font-family='"Liberation Sans", sans-serif' fill="#1a1a1a">10</text>
<line x1="656.5" y1="279.5" x2="658.5" y2="279.5" stroke="#808080" stroke-width="0.8"/>
<text x="661.8" y="281.95" font-size="7.2" text-anchor="start" font-family='"Liberation Sans", sans-serif' fill="#1a1a1a">0</text>
<line x1="656.5" y1="254.52" x2="658.5" y2="254.52" stroke="#808080" stroke-width="0.8"/>
<text x="661.8" y="256.97" font-size="7.2" text-anchor="start" font-family='"Liberation Sans", sans-serif' fill="#1a1a1a">1</text>
<line x1="656.5" y1="229.54" x2="658.5" y2="229.54" stroke="#808080" stroke-width="0.8"/>
<text x="661.8" y="231.99" font-size="7.2" text-anchor="start" font-family='"Liberation Sans", sans-serif' fill="#1a1a1a">2</text>
<line x1="656.5" y1="204.56" x2="658.5" y2="204.56" stroke="#808080" stroke-width="0.8"/>
<text x="661.8" y="207.01" font-size="7.2" text-anchor="start" font-family='"Liberation Sans", sans-serif' fill="#1a1a1a">3</text>
<line x1="656.5" y1="179.58" x2="658.5" y2="179.58" stroke="#808080" stroke-width="0.8"/>
<text x="661.8" y="182.03" font-size="7.2" text-anchor="start" font-family='"Liberation Sans", sans-serif' fill="#1a1a1a">4</text>
<line x1="656.5" y1="154.6" x2="658.5" y2="154.6" stroke="#808080" stroke-width="0.8"/>
<text x="661.8" y="157.05" font-size="7.2" text-anchor="start" font-family='"Liberation Sans", sans-serif' fill="#1a1a1a">5</text>
<text x="0" y="0" font-size="7.9" font-family='"Liberation Serif", serif' fill="#1a1a1a" transform="translate(494.8 164.6) scale(0.88 1)">CPAP3C5</text>
<rect x="486.2" y="169.8" width="13.4" height="3.4" fill="#dedede" stroke="#808080" stroke-width="0.7"/>
<text x="502.5" y="173.7" font-size="6.1" text-anchor="start" font-family='"Liberation Sans", sans-serif' fill="#1a1a1a">RT-qPCR</text>
<line x1="486.2" y1="178.5" x2="499.6" y2="178.5" stroke="#555" stroke-width="0.7"/>
<circle cx="492.9" cy="178.5" r="1.3" fill="#000"/>
<text x="502.5" y="180.6" font-size="6.1" text-anchor="start" font-family='"Liberation Sans", sans-serif' fill="#1a1a1a">RNA-seq</text>
<text x="0" y="0" font-size="8.7" text-anchor="middle" font-family='"Liberation Sans", sans-serif' fill="#1a1a1a" transform="translate(7.8 65.5) rotate(-90)">Relative transcript abundance</text>
<text x="0" y="0" font-size="8.7" text-anchor="middle" font-family='"Liberation Sans", sans-serif' fill="#1a1a1a" transform="translate(7.8 216.9) rotate(-90)">Relative transcript abundance</text>
<text x="0" y="0" font-size="7.4" text-anchor="middle" font-family='"Liberation Serif", serif' fill="#1a1a1a" style="stroke:none;fill:#333" transform="translate(683 66.2) rotate(-90)">Log 2 FPKM</text>
<text x="0" y="0" font-size="7.1" text-anchor="middle" font-family='"Liberation Serif", serif' fill="#1a1a1a" style="stroke:none;fill:#333" transform="translate(681.4 217.5) rotate(-90)">Log 2 FPKM</text>
</svg>
</body></html>
